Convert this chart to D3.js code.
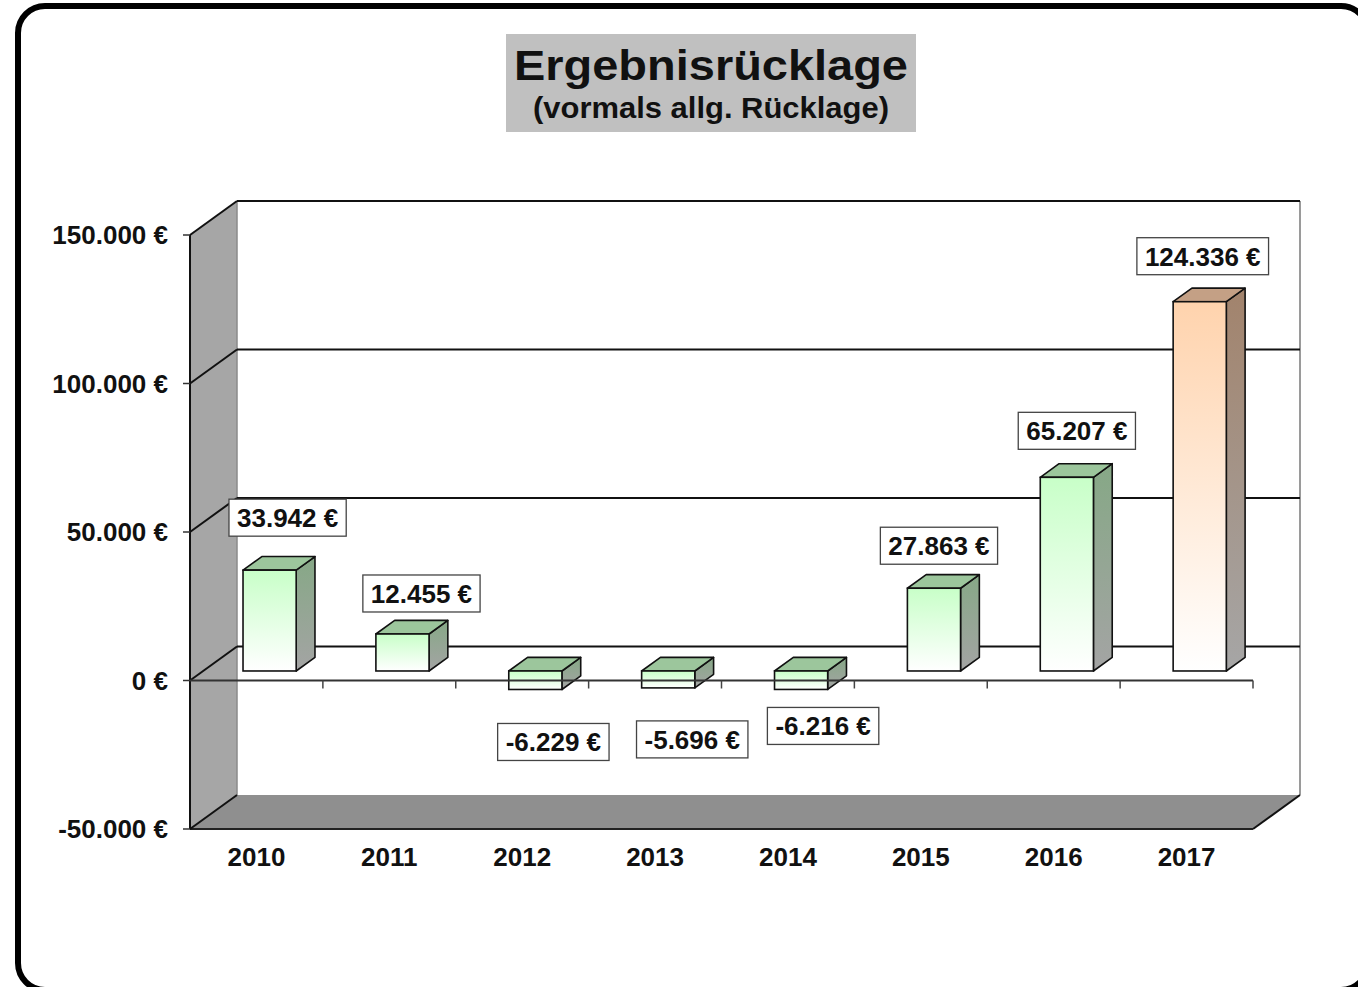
<!DOCTYPE html>
<meta charset="utf-8">
<script src="https://d3js.org/d3.v7.min.js"></script>
<style>
  body { margin: 0; background: #fff; }
  text { font-family: Arial, "Liberation Sans", sans-serif; font-weight: bold; fill: #111; }
</style>
<div id="chart"></div>
<script>

// data
var years = ["2010", "2011", "2012", "2013", "2014", "2015", "2016", "2017"];
var values = [33942, 12455, -6229, -5696, -6216, 27863, 65207, 124336];
var yTicks = [-50000, 0, 50000, 100000, 150000];
var title = "Ergebnisrücklage";
var subtitle = "(vormals allg. Rücklage)";

// hand-placed data labels (pixel nudges from the default spot)
var labelNudge = [[0, -8], [1, 4], [0, 8], [6, 7], [4, -8], [-13, 2], [-8, -2], [-15, -1]];

var W = 1358, H = 987;
var svg = d3.select("#chart").append("svg")
  .attr("width", W)
  .attr("height", H);

var de = d3.formatLocale({decimal: ",", thousands: ".", grouping: [3], currency: ["", " €"], minus: "-"});
var fmt = de.format("$,.0f");

// outer rounded frame
svg.append("rect")
  .attr("x", 18).attr("y", 6)
  .attr("width", 1350).attr("height", 984)
  .attr("rx", 27)
  .attr("fill", "none")
  .attr("stroke", "#000")
  .attr("stroke-width", 6);

// title box
svg.append("rect")
  .attr("x", 506).attr("y", 34)
  .attr("width", 410).attr("height", 98)
  .attr("fill", "#c0c0c0");
svg.append("text")
  .attr("x", 711).attr("y", 80)
  .attr("text-anchor", "middle")
  .style("font-size", "43px")
  .attr("textLength", 394).attr("lengthAdjust", "spacingAndGlyphs")
  .text(title);
svg.append("text")
  .attr("x", 711).attr("y", 118)
  .attr("text-anchor", "middle")
  .style("font-size", "29px")
  .attr("textLength", 356).attr("lengthAdjust", "spacingAndGlyphs")
  .text(subtitle);

// scales (front plane) + depth offset of the 3d box
var x = d3.scaleBand().domain(years).range([190, 1253]).padding(0);
var y = d3.scaleLinear().domain([-50000, 150000]).range([829, 235]);
var DX = 47, DY = -34;
var d1 = 0.28, d2 = 0.68;   // bar depth (front / back)
var barFrac = 0.4;

var xL = x.range()[0], xR = x.range()[1];
var yMin = y.domain()[0], yMax = y.domain()[1];

function pt(px, v, d) { return [px + d * DX, y(v) + d * DY]; }
function poly(p) { return p.map(function(q) { return q[0] + "," + q[1]; }).join(" "); }

var g = svg.append("g");

// left wall
g.append("polygon")
  .attr("points", poly([pt(xL, yMax, 0), pt(xL, yMax, 1), pt(xL, yMin, 1), pt(xL, yMin, 0)]))
  .attr("fill", "#a6a6a6");

// back wall
g.append("rect")
  .attr("x", xL + DX).attr("y", y(yMax) + DY)
  .attr("width", xR - xL).attr("height", y(yMin) - y(yMax))
  .attr("fill", "#fff");
g.append("line")
  .attr("x1", xL + DX).attr("x2", xL + DX)
  .attr("y1", y(yMax) + DY).attr("y2", y(yMin) + DY)
  .attr("stroke", "#8a8a8a").attr("stroke-width", 1.5);
g.append("line")
  .attr("x1", xR + DX).attr("x2", xR + DX)
  .attr("y1", y(yMax) + DY).attr("y2", y(yMin) + DY)
  .attr("stroke", "#9a9a9a").attr("stroke-width", 2);

// floor
g.append("polygon")
  .attr("points", poly([pt(xL, yMin, 0), pt(xR, yMin, 0), pt(xR, yMin, 1), pt(xL, yMin, 1)]))
  .attr("fill", "#8f8f8f");
g.append("line")
  .attr("x1", xR).attr("y1", y(yMin))
  .attr("x2", xR + DX).attr("y2", y(yMin) + DY)
  .attr("stroke", "#111").attr("stroke-width", 2);
g.append("line")
  .attr("x1", xL).attr("y1", y(yMin))
  .attr("x2", xR).attr("y2", y(yMin))
  .attr("stroke", "#222").attr("stroke-width", 2);

// gridlines: back wall + diagonal on left wall
yTicks.forEach(function(v) {
  if (v > yMin) {
    g.append("line")
      .attr("x1", xL + DX).attr("x2", xR + DX)
      .attr("y1", y(v) + DY).attr("y2", y(v) + DY)
      .attr("stroke", "#111").attr("stroke-width", 2);
  }
  g.append("line")
    .attr("x1", xL).attr("y1", y(v))
    .attr("x2", xL + DX).attr("y2", y(v) + DY)
    .attr("stroke", "#111").attr("stroke-width", 2);
});

// y axis
g.append("line")
  .attr("x1", xL).attr("x2", xL)
  .attr("y1", y(yMax)).attr("y2", y(yMin))
  .attr("stroke", "#111").attr("stroke-width", 2);
g.selectAll(".ytick")
  .data(yTicks).enter()
  .append("line")
    .attr("x1", xL - 7).attr("x2", xL)
    .attr("y1", function(d) { return y(d); })
    .attr("y2", function(d) { return y(d); })
    .attr("stroke", "#333").attr("stroke-width", 1.5);
g.selectAll(".ylab")
  .data(yTicks).enter()
  .append("text")
    .attr("x", 168)
    .attr("y", function(d) { return y(d) + 9; })
    .attr("text-anchor", "end")
    .style("font-size", "26px")
    .text(function(d) { return fmt(d); });

// gradients
var defs = svg.append("defs");
function vgrad(id, top, bottom) {
  var lg = defs.append("linearGradient").attr("id", id)
    .attr("x1", 0).attr("y1", 0).attr("x2", 0).attr("y2", 1);
  lg.append("stop").attr("offset", "0%").attr("stop-color", top);
  lg.append("stop").attr("offset", "100%").attr("stop-color", bottom);
}
vgrad("frontGreen", "#c8ffc8", "#ffffff");
vgrad("sideGreen", "#86a886", "#a4a4a4");
vgrad("frontPeach", "#ffd3ad", "#ffffff");
vgrad("sidePeach", "#a2836c", "#a6a6a6");

var theme = {
  green: {front: "url(#frontGreen)", side: "url(#sideGreen)", top: "#9cc69c"},
  peach: {front: "url(#frontPeach)", side: "url(#sidePeach)", top: "#c4a085"}
};

// bars
var bars = years.map(function(yr, i) {
  var v = values[i];
  var bw = x.bandwidth() * barFrac;
  var x0 = x(yr) + (x.bandwidth() - bw) / 2, x1 = x0 + bw;
  var hi = Math.max(v, 0), lo = Math.min(v, 0);
  return {year: yr, value: v, x0: x0, x1: x1, hi: hi, lo: lo,
          t: i === years.length - 1 ? theme.peach : theme.green};
});

var bar = g.selectAll(".bar").data(bars).enter().append("g").attr("class", "bar");
bar.append("polygon")
  .attr("points", function(b) {
    return poly([pt(b.x1, b.hi, d1), pt(b.x1, b.hi, d2), pt(b.x1, b.lo, d2), pt(b.x1, b.lo, d1)]);
  })
  .attr("fill", function(b) { return b.t.side; })
  .attr("stroke", "#111").attr("stroke-width", 1.6).attr("stroke-linejoin", "round");
bar.append("polygon")
  .attr("points", function(b) {
    return poly([pt(b.x0, b.hi, d1), pt(b.x1, b.hi, d1), pt(b.x1, b.hi, d2), pt(b.x0, b.hi, d2)]);
  })
  .attr("fill", function(b) { return b.t.top; })
  .attr("stroke", "#111").attr("stroke-width", 1.6).attr("stroke-linejoin", "round");
bar.append("rect")
  .attr("x", function(b) { return pt(b.x0, b.hi, d1)[0]; })
  .attr("y", function(b) { return pt(b.x0, b.hi, d1)[1]; })
  .attr("width", function(b) { return b.x1 - b.x0; })
  .attr("height", function(b) { return y(b.lo) - y(b.hi); })
  .attr("fill", function(b) { return b.t.front; })
  .attr("stroke", "#111").attr("stroke-width", 1.6);

// category axis at zero (front)
g.append("line")
  .attr("x1", xL).attr("x2", xR)
  .attr("y1", y(0)).attr("y2", y(0))
  .attr("stroke", "#333").attr("stroke-width", 2);
g.selectAll(".xtick")
  .data(years).enter()
  .append("line")
    .attr("x1", function(d) { return x(d) + x.bandwidth(); })
    .attr("x2", function(d) { return x(d) + x.bandwidth(); })
    .attr("y1", y(0)).attr("y2", y(0) + 8)
    .attr("stroke", "#444").attr("stroke-width", 1.5);
g.selectAll(".xlab")
  .data(years).enter()
  .append("text")
    .attr("x", function(d) { return x(d) + x.bandwidth() / 2; })
    .attr("y", 866)
    .attr("text-anchor", "middle")
    .style("font-size", "26px")
    .text(function(d) { return d; });

// data labels
var lab = g.selectAll(".lab").data(bars).enter().append("g").attr("class", "lab");
lab.each(function(b, i) {
  var sel = d3.select(this);
  var box = sel.append("rect");
  var txt = sel.append("text")
    .attr("text-anchor", "middle")
    .style("font-size", "26px")
    .text(fmt(b.value));
  var tw = txt.node().getComputedTextLength();
  var bw = tw + 16, bh = 37;
  var cx = (b.x0 + b.x1) / 2 + d1 * DX + 18 + labelNudge[i][0];
  var top;
  if (b.value >= 0) top = y(b.hi) + d1 * DY - 26 - bh + labelNudge[i][1];
  else top = y(b.lo) + d1 * DY + 26 + labelNudge[i][1];
  box.attr("x", cx - bw / 2).attr("y", top)
    .attr("width", bw).attr("height", bh)
    .attr("fill", "#fff")
    .attr("stroke", "#444").attr("stroke-width", 1.3);
  txt.attr("x", cx).attr("y", top + 28);
});

</script>
